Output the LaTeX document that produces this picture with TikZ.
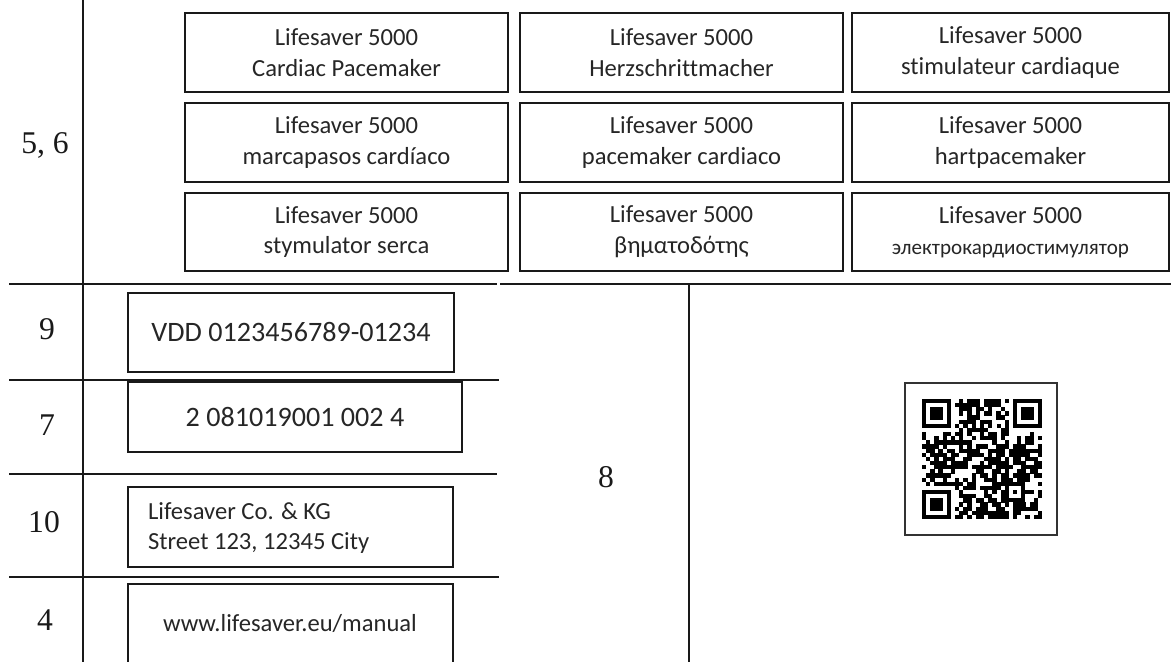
\documentclass[tikz,border=0pt]{standalone}
\usepackage{fontspec}
\usepackage{tikz}
\newfontfamily\labelfont[Ligatures={NoCommon}]{Carlito}
\newfontfamily\numfont{Liberation Serif}

\tikzset{
    labelbox/.style={line width=1.4pt, draw=black!90},
    sepline/.style={line width=0.7pt, draw=black!90},
    boxtext/.style={font=\labelfont\fontsize{14}{17.6}\selectfont, text=black!85, align=center},
    bigtext/.style={font=\labelfont\fontsize{16}{19}\selectfont, text=black!85, align=center},
    rowno/.style={font=\numfont\fontsize{18}{21}\selectfont, text=black!90}
}

\begin{document}
\begin{tikzpicture}[x=0.02cm, y=-0.02cm]
    \useasboundingbox (0,0) rectangle (1171,662);
    % Table lines
    \draw[sepline] (83,0) -- (83,662);
    \draw[sepline] (9,284) -- (497,284);
    \draw[sepline] (500,284) -- (1171,284);
    \draw[sepline] (689,284) -- (689,662);
    \draw[sepline] (9,380) -- (499,380);
    \draw[sepline] (9,474) -- (497,474);
    \draw[sepline] (9,577) -- (499,577);
    % Row numbers
    \node[rowno] (n56) at (45,145) {5, 6};
    \node[rowno] (n9) at (47,329) {9};
    \node[rowno] (n7) at (47,425) {7};
    \node[rowno] (n10) at (44,522) {10};
    \node[rowno] (n4) at (45,620) {4};
    \node[rowno] (n8) at (606,477) {8};
    % Device names
    \draw[labelbox] (185,13) rectangle (508,92) node[pos=0.5, boxtext] (en) {Lifesaver 5000\\Cardiac Pacemaker};
    \draw[labelbox] (520,13) rectangle (843,92) node[pos=0.5, boxtext] (de) {Lifesaver 5000\\Herzschrittmacher};
    \draw[labelbox] (852,13) rectangle (1169,92) node[pos=0.5, boxtext] (fr) {Lifesaver 5000\\stimulateur cardiaque};
    \draw[labelbox] (185,103) rectangle (508,182) node[pos=0.5, boxtext] (es) {Lifesaver 5000\\marcapasos cardíaco};
    \draw[labelbox] (520,103) rectangle (843,182) node[pos=0.5, boxtext] (it) {Lifesaver 5000\\pacemaker cardiaco};
    \draw[labelbox] (852,103) rectangle (1169,182) node[pos=0.5, boxtext] (nl) {Lifesaver 5000\\hartpacemaker};
    \draw[labelbox] (185,193) rectangle (508,271) node[pos=0.5, boxtext] (pl) {Lifesaver 5000\\stymulator serca};
    \draw[labelbox] (520,193) rectangle (843,271) node[pos=0.5, boxtext] (el) {Lifesaver 5000\\βηματοδότης};
    \draw[labelbox] (852,193) rectangle (1169,271) node[pos=0.5, boxtext] (ru) {Lifesaver 5000\\{\fontsize{12}{17.6}\selectfont электрокардиостимулятор}};
    % Identifiers
    \draw[labelbox] (128,293) rectangle (454,372) node[pos=0.5, bigtext] (udi) {VDD 0123456789-01234};
    \draw[labelbox] (128,382) rectangle (462,452) node[pos=0.5, bigtext] (ref) {2 081019001 002 4};
    \draw[labelbox] (128,487) rectangle (453,567) node[boxtext, align=left, anchor=west] (addr) at (141,528) {Lifesaver Co. \& KG\\Street 123, 12345 City};
    \draw[labelbox] (128,584) rectangle (453,675) node[boxtext] (url) at (290,623) {www.lifesaver.eu/manual};
    % QR code
    \draw[line width=1pt, draw=black!80] (905,383) rectangle (1057,535);
    \begin{scope}[shift={(922,399)}, x=0.0828cm, y=-0.0828cm]
        \foreach \cx/\cy in {0/0, 22/0, 0/22} {
            \fill (\cx,\cy) rectangle ++(7,7);
            \fill[white] (\cx+1,\cy+1) rectangle ++(5,5);
            \fill (\cx+2,\cy+2) rectangle ++(3,3);
        }
        \fill (20,20) rectangle (25,25);
        \fill[white] (21,21) rectangle (24,24);
        \fill (22,22) rectangle (23,23);
        \foreach \k in {8,10,...,20} {
            \fill (\k,6) rectangle ++(1,1);
            \fill (6,\k) rectangle ++(1,1);
        }
        \pgfmathsetseed{2718}
        \foreach \i in {0,...,28} {
            \foreach \j in {0,...,28} {
                \pgfmathtruncatemacro{\qrskip}{(\i<8)*(\j<8)+(\i>20)*(\j<8)+(\i<8)*(\j>20)+(\i==6)+(\j==6)+(\i>19)*(\i<25)*(\j>19)*(\j<25)}
                \ifnum\qrskip=0
                    \pgfmathtruncatemacro{\qrbit}{rnd<0.56}
                    \ifnum\qrbit=1 \fill (\i-0.02,\j-0.02) rectangle ++(1.04,1.04); \fi
                \fi
            }
        }
    \end{scope}
\end{tikzpicture}
\end{document}
